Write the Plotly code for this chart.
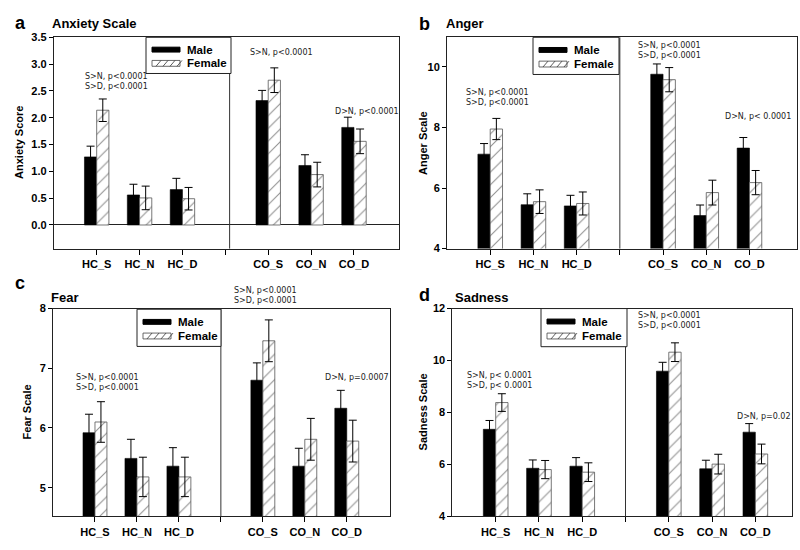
import plotly.graph_objects as go

# ---------------- data ----------------
categories = ["HC_S", "HC_N", "HC_D", "CO_S", "CO_N", "CO_D"]
series_names = ["Male", "Female"]

anxiety_male = [1.27, 0.56, 0.66, 2.32, 1.11, 1.82]
anxiety_male_err = [0.20, 0.20, 0.21, 0.19, 0.20, 0.19]
anxiety_female = [2.14, 0.505, 0.49, 2.70, 0.94, 1.56]
anxiety_female_err = [0.21, 0.22, 0.21, 0.23, 0.23, 0.23]

anger_male = [7.12, 5.45, 5.41, 9.76, 5.09, 7.32]
anger_male_err = [0.35, 0.36, 0.35, 0.34, 0.35, 0.35]
anger_female = [7.95, 5.55, 5.49, 9.58, 5.85, 6.18]
anger_female_err = [0.35, 0.39, 0.38, 0.40, 0.41, 0.40]

fear_male = [5.92, 5.49, 5.36, 6.80, 5.36, 6.33]
fear_male_err = [0.31, 0.32, 0.31, 0.29, 0.30, 0.30]
fear_female = [6.10, 5.18, 5.18, 7.46, 5.81, 5.78]
fear_female_err = [0.34, 0.33, 0.33, 0.35, 0.35, 0.35]

sadness_male = [7.35, 5.85, 5.93, 9.59, 5.83, 7.24]
sadness_male_err = [0.34, 0.32, 0.33, 0.34, 0.33, 0.33]
sadness_female = [8.38, 5.80, 5.70, 10.32, 6.01, 6.40]
sadness_female_err = [0.34, 0.35, 0.36, 0.36, 0.38, 0.38]

panel_letters = ["a", "b", "c", "d"]
panel_titles = ["Anxiety Scale", "Anger", "Fear", "Sadness"]
y_titles = ["Anxiety Score", "Anger Scale", "Fear Scale", "Sadness Scale"]

notes_a = ["S>N, p<0.0001<br>S>D, p<0.0001", "S>N, p<0.0001", "D>N, p<0.0001"]
notes_b = ["S>N, p<0.0001<br>S>D, p<0.0001", "S>N, p<0.0001<br>S>D, p<0.0001", "D>N, p< 0.0001"]
notes_c = ["S>N, p<0.0001<br>S>D, p<0.0001", "S>N, p<0.0001<br>S>D, p<0.0001", "D>N, p=0.0007"]
notes_d = ["S>N, p< 0.0001<br>S>D, p< 0.0001", "S>N, p<0.0001<br>S>D, p<0.0001", "D>N, p=0.02"]

# ---------------- layout helpers ----------------
W, H = 800, 550
FONT = "Liberation Sans, Arial, sans-serif"
NOTE_FONT = "DejaVu Sans, Verdana, sans-serif"


def fx(px):
    return px / W


def fy(py):
    return 1 - py / H


# category positions: a blank slot between the HC and CO groups
xpos = [i if i < 3 else i + 1 for i in range(len(categories))]
tickvals = [0, 1, 2, 3, 4, 5, 6]
ticktext = categories[:3] + [""] + categories[3:]

panels = [
    dict(male=anxiety_male, male_err=anxiety_male_err, female=anxiety_female, female_err=anxiety_female_err,
         box=(53.8, 399, 32, 248), xr=[-1, 7.05], yr=[-0.44, 3.5], yticks=[0, 0.5, 1, 1.5, 2, 2.5, 3, 3.5],
         fmt=".1f", divider=3.1, legend=(146, 32, 85, 37), zeroline=True,
         letter=(13, 17), title=(50, 18), ytitle_x=19,
         notes=notes_a, note_pos=[(82.7, 77), (248.3, 47.3), (333.3, 108.3)]),
    dict(male=anger_male, male_err=anger_male_err, female=anger_female, female_err=anger_female_err,
         box=(447, 797, 32, 248), xr=[-1, 7.1], yr=[4, 10.98], yticks=[4, 6, 8, 10],
         fmt="d", divider=3.0, legend=(533, 32, 86, 38), zeroline=False,
         letter=(417, 18), title=(444, 18), ytitle_x=423,
         notes=notes_b, note_pos=[(464.3, 93.3), (636, 45), (723.3, 113.3)]),
    dict(male=fear_male, male_err=fear_male_err, female=fear_female, female_err=fear_female_err,
         box=(53, 390, 309.3, 521.7), xr=[-1, 7.03], yr=[4.52, 8], yticks=[5, 6, 7, 8],
         fmt="d", divider=3.0, legend=(137, 310, 84, 38), zeroline=False,
         letter=(13, 283), title=(49, 298), ytitle_x=27,
         notes=notes_c, note_pos=[(74, 384.7), (232.3, 296.2), (322.7, 380)]),
    dict(male=sadness_male, male_err=sadness_male_err, female=sadness_female, female_err=sadness_female_err,
         box=(452.4, 791.7, 309.3, 521.7), xr=[-1, 6.84], yr=[4, 12], yticks=[4, 6, 8, 10, 12],
         fmt="d", divider=3.0, legend=(541, 309.3, 86, 39), zeroline=False,
         letter=(417, 295), title=(453, 298), ytitle_x=423,
         notes=notes_d, note_pos=[(465, 382.8), (636, 321.3), (735, 419.3)]),
]

fig = go.Figure()
layout = dict(
    width=W, height=H,
    margin=dict(l=0, r=0, t=0, b=0),
    paper_bgcolor="white", plot_bgcolor="white",
    barmode="group", bargap=0.43, bargroupgap=0.0,
    font=dict(family=FONT, color="black"),
    showlegend=False,
)
annotations = []
shapes = []


def paper_line(xa_, ya_, xb_, yb_, color="#222222", width=1):
    return dict(type="line", xref="paper", yref="paper",
                x0=fx(xa_), y0=fy(ya_), x1=fx(xb_), y1=fy(yb_),
                line=dict(color=color, width=width))


def paper_rect(xa_, ya_, xb_, yb_, fill, color="#222222", width=1):
    return dict(type="rect", xref="paper", yref="paper",
                x0=fx(xa_), y0=fy(yb_), x1=fx(xb_), y1=fy(ya_),
                fillcolor=fill, line=dict(color=color, width=width), layer="above")


for k, p in enumerate(panels):
    sfx = "" if k == 0 else str(k + 1)
    xa, ya = "x" + sfx, "y" + sfx
    x0, x1, y0, y1 = p["box"]

    fig.add_trace(go.Bar(
        x=xpos, y=p["male"], name=series_names[0], xaxis=xa, yaxis=ya,
        marker=dict(color="black", line=dict(color="black", width=0.6)),
        error_y=dict(type="data", array=p["male_err"], color="black", thickness=1, width=4),
    ))
    fig.add_trace(go.Bar(
        x=xpos, y=p["female"], name=series_names[1], xaxis=xa, yaxis=ya,
        marker=dict(color="white",
                    pattern=dict(shape="/", fgcolor="#222222", bgcolor="white", size=9, solidity=0.12),
                    line=dict(color="#555555", width=0.8)),
        error_y=dict(type="data", array=p["female_err"], color="black", thickness=1, width=4),
    ))

    layout["xaxis" + sfx] = dict(
        domain=[fx(x0), fx(x1)], anchor=ya, range=p["xr"],
        tickmode="array", tickvals=tickvals, ticktext=ticktext,
        ticks="outside", ticklen=5, tickwidth=1, tickcolor="black",
        showline=True, linecolor="#222222", linewidth=1, mirror=True,
        showgrid=False, zeroline=False, fixedrange=True,
        tickfont=dict(family=FONT, size=11, weight="bold", color="black"),
    )
    layout["yaxis" + sfx] = dict(
        domain=[fy(y1), fy(y0)], anchor=xa, range=p["yr"],
        tickmode="array", tickvals=p["yticks"], tickformat=p["fmt"],
        ticks="outside", ticklen=4, tickwidth=1, tickcolor="black",
        showline=True, linecolor="#222222", linewidth=1, mirror=True,
        showgrid=False, zeroline=p["zeroline"], zerolinecolor="#222222", zerolinewidth=1,
        fixedrange=True,
        tickfont=dict(family=FONT, size=11, weight="bold", color="black"),
    )

    # divider between HC and CO groups
    shapes.append(dict(type="line", xref=xa, yref=ya + " domain", x0=p["divider"], x1=p["divider"],
                       y0=0, y1=1, line=dict(color="#333333", width=1)))

    # legend box (Male: solid black swatch, Female: hatched swatch)
    lx, ly, lw, lh = p["legend"]
    shapes.append(paper_rect(lx, ly, lx + lw, ly + lh, "white"))
    row1, row2 = ly + lh * 0.34, ly + lh * 0.72
    sx0, sx1 = lx + 6, lx + 34
    shapes.append(paper_rect(sx0, row1 - 2.5, sx1, row1 + 2.5, "black", color="black"))
    shapes.append(paper_rect(sx0, row2 - 3, sx1, row2 + 3, "white", color="#444444", width=0.8))
    for i in range(4):
        hx = sx0 + 4 + i * 7
        shapes.append(paper_line(hx, row2 + 3, hx + 5, row2 - 3, color="#333333", width=0.8))
    for name, ry in zip(series_names, (row1, row2)):
        annotations.append(dict(text=name, x=fx(lx + 39), y=fy(ry), xref="paper", yref="paper",
                                xanchor="left", yanchor="middle", showarrow=False,
                                font=dict(family=FONT, size=11.5, weight="bold", color="black")))

    # panel letter and title
    annotations.append(dict(text=panel_letters[k], x=fx(p["letter"][0]), y=fy(p["letter"][1]),
                            xref="paper", yref="paper", xanchor="left", yanchor="middle", showarrow=False,
                            font=dict(family=FONT, size=18, weight="bold", color="black")))
    annotations.append(dict(text=panel_titles[k], x=fx(p["title"][0]), y=fy(p["title"][1]),
                            xref="paper", yref="paper", xanchor="left", yanchor="middle", showarrow=False,
                            font=dict(family=FONT, size=13, weight="bold", color="black")))
    # y-axis title
    annotations.append(dict(text=y_titles[k], x=fx(p["ytitle_x"]), y=fy((y0 + y1) / 2),
                            xref="paper", yref="paper", xanchor="center", yanchor="middle",
                            textangle=-90, showarrow=False,
                            font=dict(family=FONT, size=11, weight="bold", color="black")))
    # significance notes
    for txt, (nx, ny) in zip(p["notes"], p["note_pos"]):
        annotations.append(dict(text=txt, x=fx(nx), y=fy(ny), xref="paper", yref="paper",
                                xanchor="left", yanchor="middle", align="left", showarrow=False,
                                font=dict(family=NOTE_FONT, size=8, color="#222222")))

layout["annotations"] = annotations
layout["shapes"] = shapes
fig.update_layout(**layout)

fig.write_html("out.html", config={"displayModeBar": False, "staticPlot": True},
               post_script="document.body.style.margin='0px';document.body.style.overflow='hidden';")
